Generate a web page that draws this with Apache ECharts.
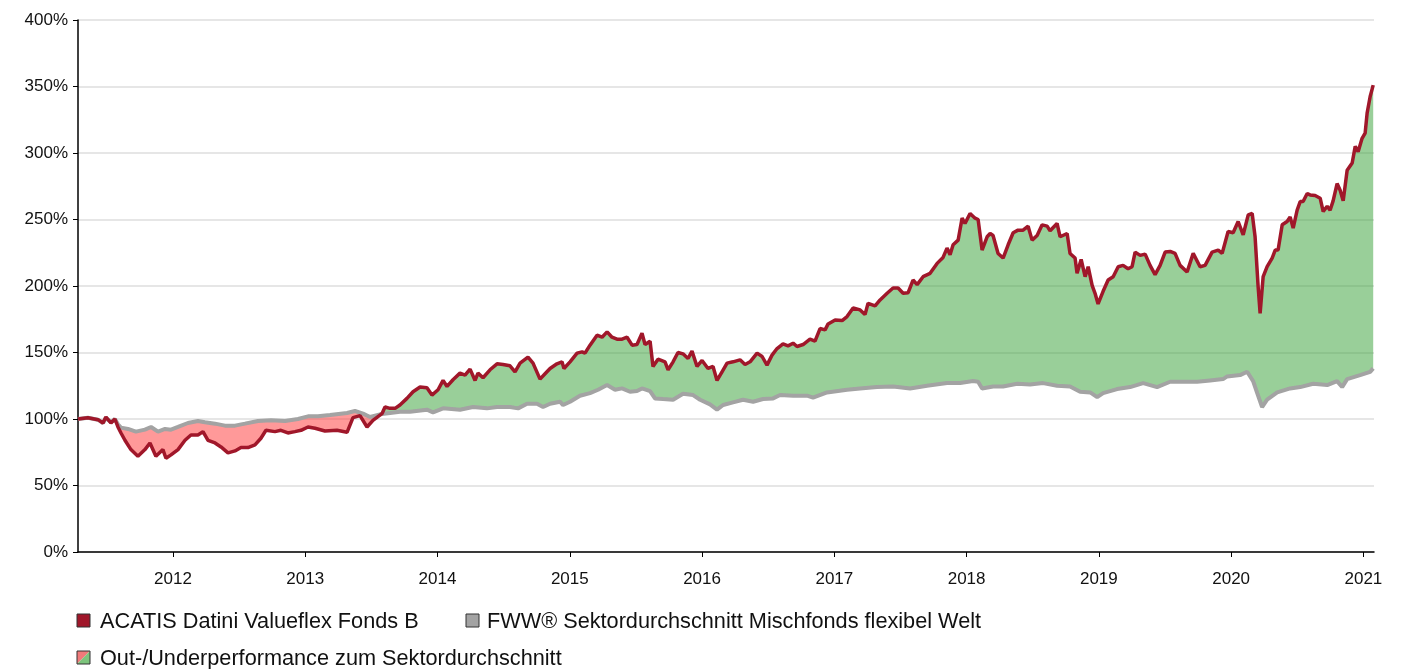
<!DOCTYPE html>
<html>
<head>
<meta charset="utf-8">
<script src="https://cdn.jsdelivr.net/npm/echarts@6/dist/echarts.min.js"></script>
<style>
    html, body { margin: 0; padding: 0; background: #fff; }
    #chart { width: 1407px; height: 669px; }
</style>
</head>
<body>
<div id="chart"></div>
<script>
// [decimal year, performance in %]
const fund = [
    [2011.282,100],[2011.357,101],[2011.433,99.5],[2011.471,97],[2011.493,101.5],[2011.531,97],[2011.561,100],[2011.584,94],[2011.607,89.5],[2011.637,84],[2011.682,77],[2011.735,72],[2011.788,77],[2011.826,82],[2011.871,72],[2011.924,77],[2011.947,70.5],[2011.985,73],
    [2012.038,77],[2012.091,84],[2012.136,88],[2012.189,88],[2012.227,90.5],[2012.265,84],[2012.318,82],[2012.363,79],[2012.416,74.5],[2012.469,76],[2012.514,78.5],[2012.567,78.5],[2012.620,80.5],[2012.665,85.5],[2012.703,91.5],[2012.771,90.5],[2012.816,91.5],[2012.869,89.5],[2012.922,90.5],[2012.968,91.5],
    [2013.021,94],[2013.074,93],[2013.149,91],[2013.240,91.5],[2013.316,90],[2013.361,101],[2013.414,102.5],[2013.467,94],[2013.512,99],[2013.580,104],[2013.603,109],[2013.641,108],[2013.679,108],[2013.716,110.5],[2013.769,115.5],[2013.815,120.5],[2013.868,124],[2013.920,123.5],[2013.958,118],
    [2014.004,122],[2014.042,129],[2014.072,124.5],[2014.117,129.5],[2014.170,134.5],[2014.208,133],[2014.246,137.5],[2014.284,129],[2014.306,134.5],[2014.344,131],[2014.397,137],[2014.450,141.5],[2014.495,141],[2014.548,140],[2014.586,135.5],[2014.624,142],[2014.684,146.5],[2014.722,142],[2014.775,130],[2014.813,134],[2014.851,138],[2014.903,141.5],[2014.941,143],[2014.956,138],
    [2015.002,143],[2015.055,149.5],[2015.093,150.5],[2015.115,149.5],[2015.153,155.5],[2015.206,163],[2015.244,161.5],[2015.282,165.5],[2015.319,161.5],[2015.357,160],[2015.395,160],[2015.433,161.5],[2015.471,155.5],[2015.508,156],[2015.546,164.5],[2015.569,156],[2015.607,158.5],[2015.629,139.5],[2015.667,145],[2015.720,143],[2015.743,137],[2015.781,143],[2015.818,150],[2015.856,149],[2015.894,145.5],[2015.924,151],[2015.962,139.5],
    [2016.000,144],[2016.045,138],[2016.083,139.5],[2016.113,129],[2016.151,135.5],[2016.189,142],[2016.234,143],[2016.287,144.5],[2016.325,141],[2016.363,143],[2016.416,149.5],[2016.454,147],[2016.491,140.5],[2016.529,148],[2016.567,153],[2016.612,156.5],[2016.650,155],[2016.688,157],[2016.718,154.5],[2016.764,156],[2016.816,160],[2016.854,158.5],[2016.892,168],[2016.930,167],[2016.953,171.5],
    [2017.006,174.5],[2017.059,174],[2017.096,177],[2017.142,183.5],[2017.195,182],[2017.232,178.5],[2017.255,187],[2017.308,185],[2017.346,189.5],[2017.399,194.5],[2017.444,198.5],[2017.482,198.5],[2017.520,194.5],[2017.558,195],[2017.595,204.5],[2017.626,201],[2017.671,207],[2017.724,209.5],[2017.777,217],[2017.822,221.5],[2017.852,228.5],[2017.875,223.5],[2017.898,231],[2017.936,234.5],[2017.966,251],[2017.988,247],
    [2018.026,254.5],[2018.064,251],[2018.087,250],[2018.117,227],[2018.155,237],[2018.178,239.5],[2018.200,238],[2018.238,224.5],[2018.276,221],[2018.314,231],[2018.352,240],[2018.389,242],[2018.427,242],[2018.465,245],[2018.495,234.5],[2018.533,238],[2018.571,246],[2018.609,245],[2018.631,241.5],[2018.684,247],[2018.707,237],[2018.760,239.5],[2018.782,224.5],[2018.820,221],[2018.835,209.5],[2018.866,220],[2018.896,207],[2018.919,214.5],[2018.949,200.5],[2018.971,194.5],[2018.994,186.5],
    [2019.032,196],[2019.070,204.5],[2019.108,207],[2019.146,214.5],[2019.183,215.5],[2019.221,213],[2019.251,214.5],[2019.274,225.5],[2019.312,223],[2019.350,224],[2019.387,215.5],[2019.425,208.5],[2019.463,215.5],[2019.501,225.5],[2019.539,226],[2019.576,224.5],[2019.614,215.5],[2019.667,210.5],[2019.713,224.5],[2019.765,214.5],[2019.803,215.5],[2019.856,225.5],[2019.902,227],[2019.932,224.5],[2019.977,241],
    [2020.015,240],[2020.053,248.5],[2020.091,238.5],[2020.129,253.5],[2020.159,254.5],[2020.181,237],[2020.204,199.5],[2020.219,179.5],[2020.242,207],[2020.272,214.5],[2020.310,221],[2020.333,227],[2020.355,227],[2020.386,246],[2020.423,248.5],[2020.446,252],[2020.469,243.5],[2020.499,257],[2020.522,263.5],[2020.544,263.5],[2020.575,269.5],[2020.597,268.5],[2020.635,268],[2020.673,266],[2020.696,256],[2020.726,260],[2020.748,257],[2020.771,264],[2020.801,277],[2020.824,272],[2020.847,264],[2020.877,287],[2020.915,292.5],[2020.938,305],[2020.960,301],[2020.990,311],
    [2021.013,315],[2021.028,330],[2021.051,342.5],[2021.074,351]
];

const sector = [
    [2011.282,100],[2011.357,101],[2011.433,99.5],[2011.471,97],[2011.493,101],[2011.531,97.5],[2011.561,100],[2011.584,96],[2011.607,93.5],[2011.660,92.5],[2011.720,90.5],[2011.788,92],[2011.834,94],[2011.887,90.5],[2011.940,92.5],[2011.985,92],
    [2012.038,94],[2012.113,97],[2012.189,98.5],[2012.242,97.5],[2012.318,96.5],[2012.393,95],[2012.469,95],[2012.544,96.5],[2012.643,98.5],[2012.741,99],[2012.847,98.5],[2012.945,100],
    [2013.021,102],[2013.096,102],[2013.187,103],[2013.316,104.5],[2013.376,106],[2013.437,104],[2013.490,101.5],[2013.565,103.5],[2013.580,104],[2013.641,104.5],[2013.716,105.5],[2013.792,105.5],[2013.920,107],[2013.966,105],
    [2014.042,108],[2014.170,107],[2014.268,109],[2014.374,108],[2014.450,109],[2014.548,109],[2014.609,108],[2014.677,111.5],[2014.752,111.5],[2014.798,109],[2014.851,111.5],[2014.926,113],[2014.949,110.5],
    [2015.002,113],[2015.077,117.5],[2015.153,119.5],[2015.214,122],[2015.282,125.5],[2015.342,122],[2015.395,123],[2015.455,120.5],[2015.508,121],[2015.546,123],[2015.607,121],[2015.644,115.5],[2015.705,115],[2015.781,114.5],[2015.856,119],[2015.932,118],[2015.985,114.5],
    [2016.060,111],[2016.113,107],[2016.159,110.5],[2016.234,112.5],[2016.310,114.5],[2016.386,113],[2016.461,115],[2016.537,115.5],[2016.590,118],[2016.688,117.5],[2016.794,117.5],[2016.839,116],[2016.945,120],
    [2017.096,122],[2017.195,123],[2017.323,124],[2017.444,124.5],[2017.573,123],[2017.701,125],[2017.852,127],[2017.951,127],
    [2018.049,128.5],[2018.087,128],[2018.117,123],[2018.200,124.5],[2018.276,124.5],[2018.382,126.5],[2018.480,126],[2018.578,127],[2018.684,125],[2018.782,124.5],[2018.858,120.5],[2018.934,120],[2018.987,116.5],
    [2019.032,119.5],[2019.138,122.5],[2019.236,124],[2019.335,127],[2019.440,124],[2019.539,128],[2019.637,128],[2019.743,128],[2019.841,129],[2019.939,130],[2019.970,132],
    [2020.068,133],[2020.121,135.5],[2020.166,128.5],[2020.197,119.5],[2020.234,109],[2020.272,114.5],[2020.348,120],[2020.446,123],[2020.522,124],[2020.620,126.5],[2020.726,125.5],[2020.801,128.5],[2020.839,124],[2020.877,130],[2020.975,133],
    [2021.051,135.5],[2021.074,138]
];

// point where the fund line crosses the sector average
const crossYear = 2013.58;
const yearTicks = [2012, 2013, 2014, 2015, 2016, 2017, 2018, 2019, 2020, 2021];
const legendNames = [
    'ACATIS Datini Valueflex Fonds B',
    'FWW® Sektordurchschnitt Mischfonds flexibel Welt',
    'Out-/Underperformance zum Sektordurchschnitt'
];

const FONT = '"Liberation Sans", Arial, sans-serif';
const RED = '#a0172a';
const GRAY = '#a3a3a3';

function renderGap(params, api) {
    const pick = (arr, test) => arr.filter(d => test(d[0])).map(d => api.coord(d));
    const band = (test, fill) => ({
        type: 'polygon',
        shape: { points: pick(fund, test).concat(pick(sector, test).reverse()) },
        style: { fill }
    });
    return {
        type: 'group',
        children: [
            band(t => t <= crossYear, 'rgba(255,51,51,0.5)'),
            band(t => t >= crossYear, 'rgba(51,160,51,0.5)')
        ]
    };
}

function legendText(x, y, text) {
    return {
        type: 'text', x, y,
        style: { text, font: '21.7px ' + FONT, fill: '#111', verticalAlign: 'middle' }
    };
}
function legendBox(x, y, fill) {
    return {
        type: 'rect', x, y,
        shape: { width: 13, height: 13 },
        style: { fill, stroke: '#333', lineWidth: 1 }
    };
}

const chart = echarts.init(document.getElementById('chart'));
chart.setOption({
    animation: false,
    grid: { left: 78, right: 33, top: 20, bottom: 117 },
    xAxis: {
        type: 'value',
        min: 2011.282,
        max: 2021.08,
        splitLine: { show: false },
        axisLine: { lineStyle: { color: '#000', width: 1.5 } },
        axisTick: { customValues: yearTicks, length: 5, lineStyle: { color: '#000' } },
        axisLabel: {
            customValues: yearTicks,
            formatter: v => String(v),
            margin: 19,
            color: '#111',
            fontSize: 17,
            fontFamily: FONT
        }
    },
    yAxis: {
        type: 'value',
        min: 0,
        max: 400,
        interval: 50,
        axisLine: { show: true, lineStyle: { color: '#000', width: 1.5 } },
        axisTick: { show: true, length: 5, lineStyle: { color: '#000' } },
        splitLine: { lineStyle: { color: '#e6e6e6', width: 2 } },
        axisLabel: {
            formatter: '{value}%',
            margin: 10,
            color: '#111',
            fontSize: 17,
            fontFamily: FONT
        }
    },
    series: [
        {
            type: 'custom',
            renderItem: renderGap,
            data: [fund[0]],
            silent: true,
            clip: true,
            z: 1
        },
        {
            name: legendNames[1],
            type: 'line',
            data: sector,
            showSymbol: false,
            lineStyle: { color: GRAY, width: 4 },
            z: 2
        },
        {
            name: legendNames[0],
            type: 'line',
            data: fund,
            showSymbol: false,
            lineStyle: { color: RED, width: 3.5 },
            z: 3
        }
    ],
    graphic: [
        legendBox(77, 614, RED),
        legendText(100, 622, legendNames[0]),
        legendBox(466, 614, GRAY),
        legendText(487, 622, legendNames[1]),
        {
            type: 'group', x: 77, y: 651,
            children: [
                { type: 'polygon', shape: { points: [[0, 0], [13, 0], [0, 13]] }, style: { fill: '#f07a7a' } },
                { type: 'polygon', shape: { points: [[13, 0], [13, 13], [0, 13]] }, style: { fill: '#7cc47c' } },
                { type: 'rect', shape: { width: 13, height: 13 }, style: { fill: 'none', stroke: '#333', lineWidth: 1 } }
            ]
        },
        legendText(100, 659, legendNames[2])
    ]
});
</script>
</body>
</html>
